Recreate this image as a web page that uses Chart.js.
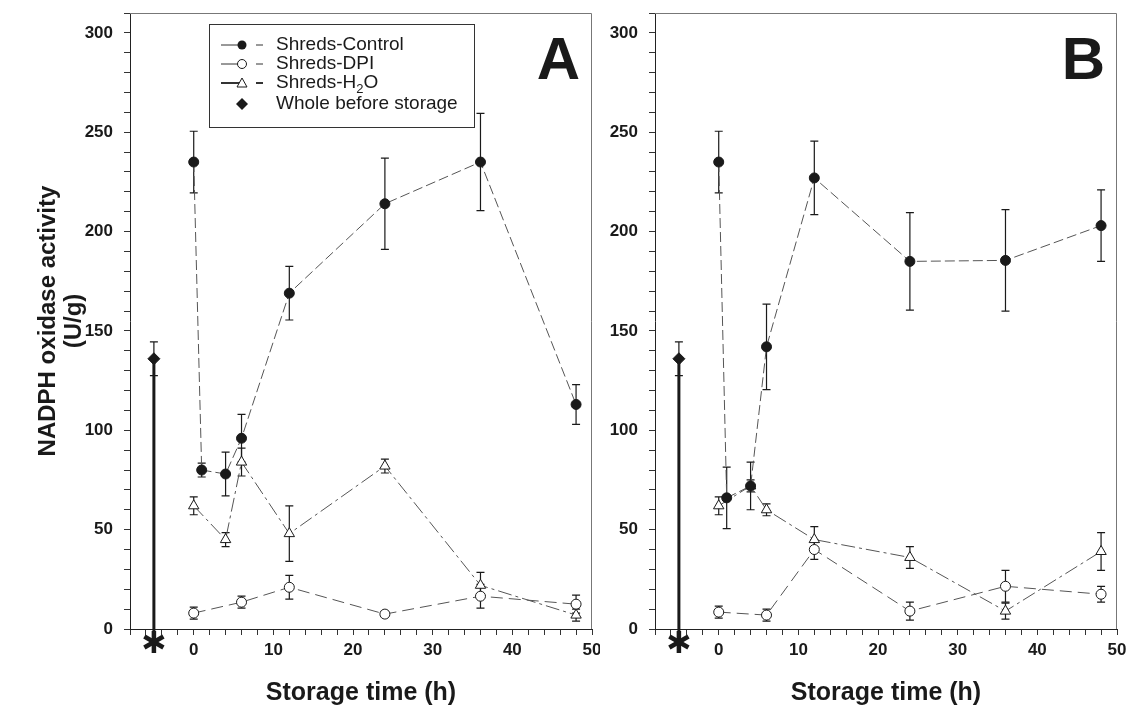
<!DOCTYPE html>
<html>
<head>
<meta charset="utf-8">
<script src="https://cdn.jsdelivr.net/npm/chart.js@4.4.0/dist/chart.umd.min.js"></script>
<style>
  body { margin: 0; background: #fff; }
  #wrap { position: relative; width: 1127px; height: 708px; }
  canvas { position: absolute; top: 0; }
  #chartA { left: 0; }
  #chartB { left: 600px; }
</style>
</head>
<body>
<div id="wrap">
  <canvas id="chartA" width="600" height="708"></canvas>
  <canvas id="chartB" width="527" height="708"></canvas>
</div>
<script>
// storage times (h)
var timesControl = [0, 1, 4, 6, 12, 24, 36, 48];
var timesDPI = [0, 6, 12, 24, 36, 48];
var timesH2O = [0, 4, 6, 12, 24, 36, 48];
var timeWhole = -5;

// panel A values (U/g) and error bars
var controlA = [235, 80, 78, 96, 169, 214, 235, 113];
var controlErrA = [15.5, 3.5, 11, 12, 13.5, 23, 24.5, 10];
var dpiA = [8, 13.5, 21, 7.5, 16.5, 12.5];
var dpiErrA = [3, 3, 6, 1.5, 6, 4.5];
var h2oA = [62, 45, 84, 48, 82, 22, 7];
var h2oErrA = [4.5, 3.5, 7, 14, 3.5, 6.5, 3];
var wholeA = 136;
var wholeErrA = 8.5;

// panel B values (U/g) and error bars
var controlB = [235, 66, 72, 142, 227, 185, 185.5, 203];
var controlErrB = [15.5, 15.5, 12, 21.5, 18.5, 24.5, 25.5, 18];
var dpiB = [8.5, 7, 40, 9, 21.5, 17.5];
var dpiErrB = [3, 3, 5, 4.5, 8, 4];
var h2oB = [62, 72, 60, 45, 36, 9, 39];
var h2oErrB = [4.5, 3, 3, 6.5, 5.5, 4, 9.5];
var wholeB = 136;
var wholeErrB = 8.5;

var seriesNames = ["Shreds-Control", "Shreds-DPI", "Shreds-H", "Whole before storage"];
var yTitle = ["NADPH oxidase activity", "(U/g)"];
var xTitle = "Storage time (h)";

var FONT = "'Liberation Sans', Arial, sans-serif";
var INK = "#1a1a1a";

function pts(xs, ys) {
  return xs.map(function (x, i) { return { x: x, y: ys[i] }; });
}

// error bars with caps, drawn under the markers
var errorBars = {
  id: "errorBars",
  beforeDatasetsDraw: function (chart) {
    var ctx = chart.ctx;
    var yScale = chart.scales.y;
    ctx.save();
    ctx.strokeStyle = INK;
    ctx.lineWidth = 1.2;
    chart.data.datasets.forEach(function (ds, i) {
      if (!ds.errors) return;
      var meta = chart.getDatasetMeta(i);
      meta.data.forEach(function (el, j) {
        var v = ds.data[j].y;
        var e = ds.errors[j];
        var top = yScale.getPixelForValue(v + e);
        var bot = yScale.getPixelForValue(v - e);
        ctx.beginPath();
        ctx.moveTo(el.x, top); ctx.lineTo(el.x, bot);
        ctx.moveTo(el.x - 4, top); ctx.lineTo(el.x + 4, top);
        ctx.moveTo(el.x - 4, bot); ctx.lineTo(el.x + 4, bot);
        ctx.stroke();
      });
    });
    ctx.restore();
  }
};

// frame, panel letter, asterisk and legend
var decorations = {
  id: "decorations",
  afterDraw: function (chart) {
    var ctx = chart.ctx;
    var a = chart.chartArea;
    var opts = chart.options.plugins.decorations;
    ctx.save();
    // grey top/right frame
    ctx.strokeStyle = "#777";
    ctx.lineWidth = 1;
    ctx.beginPath();
    ctx.moveTo(a.left, a.top + 0.5);
    ctx.lineTo(a.right - 0.5, a.top + 0.5);
    ctx.lineTo(a.right - 0.5, a.bottom);
    ctx.stroke();

    // panel letter
    ctx.fillStyle = INK;
    ctx.font = "bold 60px " + FONT;
    ctx.textAlign = "right";
    ctx.textBaseline = "alphabetic";
    ctx.fillText(opts.letter, a.right - 12, a.top + 66);

    // asterisk under the "whole" bar
    var xs = chart.scales.x.getPixelForValue(timeWhole);
    var cy = a.bottom + 13;
    ctx.strokeStyle = INK;
    ctx.lineWidth = 3;
    ctx.beginPath();
    ctx.moveTo(xs, a.bottom); ctx.lineTo(xs, cy);
    ctx.stroke();
    ctx.lineWidth = 4.5;
    [90, 30, 150].forEach(function (deg) {
      var r = deg * Math.PI / 180;
      ctx.beginPath();
      ctx.moveTo(xs - Math.cos(r) * 11, cy - Math.sin(r) * 11);
      ctx.lineTo(xs + Math.cos(r) * 11, cy + Math.sin(r) * 11);
      ctx.stroke();
    });

    if (opts.legend) drawLegend(ctx, a);
    ctx.restore();
  }
};

function drawLegend(ctx, a) {
  var bx = a.left + 79, by = a.top + 11, bw = 265, bh = 103;
  ctx.strokeStyle = "#333";
  ctx.lineWidth = 1;
  ctx.strokeRect(bx + 0.5, by + 0.5, bw, bh);
  var rows = [by + 21, by + 40, by + 59, by + 80];
  var mx = bx + 33, tx = bx + 67;
  ctx.font = "19px " + FONT;
  ctx.textAlign = "left";
  ctx.textBaseline = "middle";
  for (var i = 0; i < 3; i++) {
    var y = rows[i];
    ctx.strokeStyle = "#333";
    ctx.lineWidth = i === 2 ? 2 : 1;
    ctx.beginPath();
    ctx.moveTo(bx + 12, y); ctx.lineTo(mx, y);
    ctx.moveTo(bx + 47, y); ctx.lineTo(bx + 54, y);
    ctx.stroke();
    ctx.lineWidth = 1;
    ctx.strokeStyle = INK;
    if (i === 0) {
      ctx.fillStyle = INK;
      ctx.beginPath(); ctx.arc(mx, y, 4.5, 0, Math.PI * 2); ctx.fill();
    } else if (i === 1) {
      ctx.fillStyle = "#fff";
      ctx.beginPath(); ctx.arc(mx, y, 4.5, 0, Math.PI * 2); ctx.fill(); ctx.stroke();
    } else {
      ctx.fillStyle = "#fff";
      ctx.beginPath();
      ctx.moveTo(mx, y - 5); ctx.lineTo(mx + 5, y + 4); ctx.lineTo(mx - 5, y + 4); ctx.closePath();
      ctx.fill(); ctx.stroke();
    }
    ctx.fillStyle = INK;
    ctx.fillText(seriesNames[i], tx, y);
  }
  // subscript for H2O
  var w = ctx.measureText(seriesNames[2]).width;
  ctx.font = "13px " + FONT;
  ctx.fillText("2", tx + w, rows[2] + 6);
  var w2 = ctx.measureText("2").width;
  ctx.font = "19px " + FONT;
  ctx.fillText("O", tx + w + w2, rows[2]);
  // diamond row
  var y4 = rows[3];
  ctx.fillStyle = INK;
  ctx.beginPath();
  ctx.moveTo(mx, y4 - 6); ctx.lineTo(mx + 6, y4); ctx.lineTo(mx, y4 + 6); ctx.lineTo(mx - 6, y4);
  ctx.closePath(); ctx.fill();
  ctx.fillText(seriesNames[3], tx, y4);
}

function makeChart(id, d) {
  var lineStyle = { borderColor: "#555", borderWidth: 1, showLine: true, fill: false };
  var datasets = [
    Object.assign({}, lineStyle, {
      label: "Shreds-Control", data: pts(timesControl, d.control), errors: d.controlErr,
      borderDash: [10, 4], pointStyle: "circle", pointRadius: 5,
      pointBackgroundColor: INK, pointBorderColor: INK
    }),
    Object.assign({}, lineStyle, {
      label: "Shreds-DPI", data: pts(timesDPI, d.dpi), errors: d.dpiErr,
      borderDash: [12, 6], pointStyle: "circle", pointRadius: 5,
      pointBackgroundColor: "#fff", pointBorderColor: INK
    }),
    Object.assign({}, lineStyle, {
      label: "Shreds-H2O", data: pts(timesH2O, d.h2o), errors: d.h2oErr,
      borderDash: [14, 4, 3, 4], pointStyle: "triangle", pointRadius: 6,
      pointBackgroundColor: "#fff", pointBorderColor: INK
    }),
    {
      label: "whole bar", data: [{ x: timeWhole, y: 0 }, { x: timeWhole, y: d.whole }],
      showLine: true, borderColor: INK, borderWidth: 3, pointRadius: 0
    },
    {
      label: "Whole before storage", data: [{ x: timeWhole, y: d.whole }], errors: [d.wholeErr],
      showLine: false, pointStyle: "rectRot", pointRadius: 6,
      pointBackgroundColor: INK, pointBorderColor: INK
    }
  ];

  function noPad(s) {
    s.paddingTop = 0; s.paddingBottom = 0; s.paddingLeft = 0; s.paddingRight = 0;
  }

  return new Chart(document.getElementById(id), {
    type: "scatter",
    data: { datasets: datasets },
    plugins: [errorBars, decorations],
    options: {
      responsive: false,
      animation: false,
      layout: { padding: { top: 13, right: d.padRight, left: 0, bottom: 0 } },
      plugins: {
        legend: { display: false },
        tooltip: { enabled: false },
        decorations: { letter: d.letter, legend: d.legend }
      },
      scales: {
        x: {
          type: "linear", min: -8, max: 50,
          afterFit: function (s) { s.height = 79; noPad(s); },
          ticks: {
            stepSize: 2, autoSkip: false, maxRotation: 0, padding: 5,
            color: INK, font: { family: FONT, size: 17, weight: "bold" },
            callback: function (v) { return v >= 0 && v % 10 === 0 ? v : ""; }
          },
          grid: { drawOnChartArea: false, drawTicks: true, tickLength: 6, color: "#333" },
          border: { display: true, color: "#222", width: 1 },
          title: {
            display: true, text: xTitle, color: INK,
            font: { family: FONT, size: 25, weight: "bold" }, padding: { top: 0, bottom: 0 }
          }
        },
        y: {
          min: 0, max: 310,
          afterFit: function (s) { s.width = d.yWidth; noPad(s); },
          ticks: {
            stepSize: 10, autoSkip: false, padding: 11,
            color: INK, font: { family: FONT, size: 17, weight: "bold" },
            callback: function (v) { return v % 50 === 0 ? v : ""; }
          },
          grid: { drawOnChartArea: false, drawTicks: true, tickLength: 6, color: "#333" },
          border: { display: true, color: "#222", width: 1 },
          title: {
            display: d.yTitle, text: yTitle, color: INK,
            font: { family: FONT, size: 24, weight: "bold", lineHeight: 1.1 },
            padding: { top: 35, bottom: 0 }
          }
        }
      }
    }
  });
}

makeChart("chartA", {
  control: controlA, controlErr: controlErrA, dpi: dpiA, dpiErr: dpiErrA,
  h2o: h2oA, h2oErr: h2oErrA, whole: wholeA, wholeErr: wholeErrA,
  yWidth: 130, padRight: 8, letter: "A", legend: true, yTitle: true
});
makeChart("chartB", {
  control: controlB, controlErr: controlErrB, dpi: dpiB, dpiErr: dpiErrB,
  h2o: h2oB, h2oErr: h2oErrB, whole: wholeB, wholeErr: wholeErrB,
  yWidth: 55, padRight: 10, letter: "B", legend: false, yTitle: false
});
</script>
</body>
</html>
